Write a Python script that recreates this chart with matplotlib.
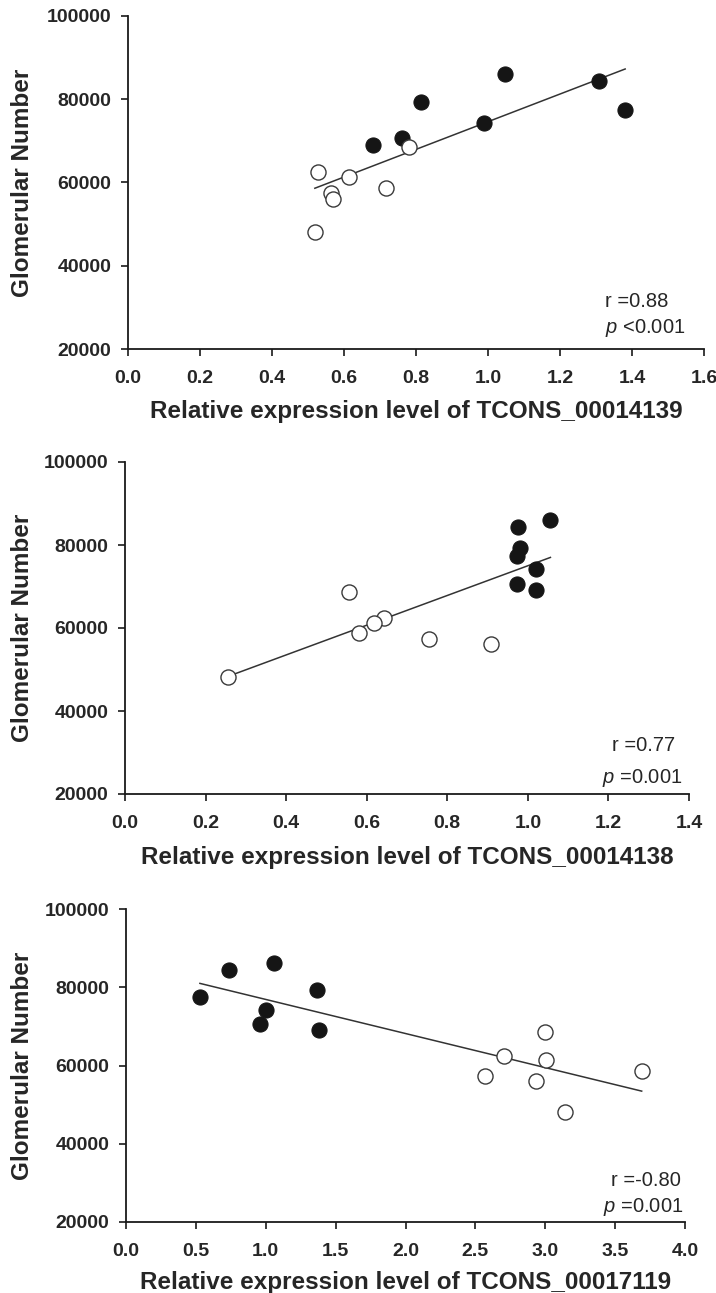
import numpy as np
import matplotlib
matplotlib.use("Agg")
import matplotlib.pyplot as plt

plt.rcParams["mathtext.fontset"] = "custom"
plt.rcParams["mathtext.it"] = "Liberation Sans:italic"
plt.rcParams["mathtext.rm"] = "Liberation Sans"

# glomerular number of each rat (filled = group 1, open = group 2)
glom_filled = [69100, 70600, 79300, 74300, 86100, 84300, 77400]
glom_open = [68600, 62500, 61300, 57400, 56100, 58700, 48100]

# relative expression, same order as above
x14139_filled = [0.68, 0.76, 0.813, 0.989, 1.048, 1.309, 1.381]
x14139_open = [0.781, 0.529, 0.613, 0.563, 0.569, 0.717, 0.519]

x14138_filled = [1.02, 0.973, 0.98, 1.02, 1.056, 0.976, 0.972]
x14138_open = [0.556, 0.644, 0.617, 0.754, 0.909, 0.581, 0.256]

x17119_filled = [1.378, 0.961, 1.366, 1.001, 1.061, 0.739, 0.529]
x17119_open = [2.999, 2.702, 3.006, 2.568, 2.935, 3.69, 3.138]

genes = ["TCONS_00014139", "TCONS_00014138", "TCONS_00017119"]
r_texts = ["r =0.88", "r =0.77", "r =-0.80"]
p_ops = ["<0.001", "=0.001", "=0.001"]
x_maxes = [1.6, 1.4, 4.0]
x_steps = [0.2, 0.2, 0.5]
y_ticks = [20000, 40000, 60000, 80000, 100000]

W, H = 716, 1293
# axes boxes in pixels: left, right, top, bottom
boxes = [(128, 704, 16, 349), (125, 689, 462, 794), (126, 685, 909, 1222)]
# annotation positions in axes fraction: (r_x, r_y, p_x, p_y)
ann = [(0.828, 0.144, 0.828, 0.063),
       (0.863, 0.145, 0.846, 0.048),
       (0.868, 0.134, 0.854, 0.048)]
# distance from x axis to top of x label, pixels
xlab_off = [51, 52, 49]

dark = "#262626"

fig = plt.figure(figsize=(W / 100, H / 100), dpi=100)

panels = [(x14139_filled, x14139_open), (x14138_filled, x14138_open),
          (x17119_filled, x17119_open)]

for i, (xf, xo) in enumerate(panels):
    l, r, t, b = boxes[i]
    ax = fig.add_axes([l / W, (H - b) / H, (r - l) / W, (b - t) / H])

    ax.scatter(xf, glom_filled, s=118, color="#151515", edgecolor="#151515",
               linewidth=0.8, zorder=3)
    ax.scatter(xo, glom_open, s=118, facecolor="white", edgecolor="#3a3a3a",
               linewidth=1.0, zorder=3)

    xs = np.array(xf + xo)
    ys = np.array(glom_filled + glom_open)
    k, c = np.polyfit(xs, ys, 1)
    xl = np.array([xs.min(), xs.max()])
    ax.plot(xl, k * xl + c, color="#333333", linewidth=1.1, zorder=2)

    ax.set_xlim(0, x_maxes[i])
    ax.set_ylim(20000, 100000)
    ax.set_xticks(np.arange(0, x_maxes[i] + 1e-9, x_steps[i]))
    ax.set_yticks(y_ticks)
    ax.xaxis.set_major_formatter(matplotlib.ticker.FormatStrFormatter("%.1f"))

    for s in ["top", "right"]:
        ax.spines[s].set_visible(False)
    for s in ["left", "bottom"]:
        ax.spines[s].set_linewidth(1.3)
        ax.spines[s].set_color("#1a1a1a")
    ax.tick_params(direction="out", length=5, width=1.2, color="#1a1a1a",
                   labelsize=14, labelcolor=dark)
    ax.tick_params(axis="x", pad=10)
    ax.tick_params(axis="y", pad=7)
    for lab in ax.get_xticklabels() + ax.get_yticklabels():
        lab.set_fontfamily("Liberation Sans")
        lab.set_fontweight("bold")

    ax.set_xlabel("Relative expression level of " + genes[i], fontsize=17.5,
                  fontweight="bold", family="Liberation Sans", color=dark)
    ax.set_ylabel("Glomerular Number", fontsize=17.5, fontweight="bold",
                  family="Liberation Sans", color=dark)
    ax.xaxis.set_label_coords(0.5, -xlab_off[i] / (b - t))
    ax.yaxis.set_label_coords(-(l - 34) / (r - l), 0.5)

    rx, ry, px, py = ann[i]
    ax.text(rx, ry, r_texts[i], transform=ax.transAxes, fontsize=14.5,
            family="Liberation Sans", color=dark, va="center", ha="left")
    ax.text(px, py, "$p$ " + p_ops[i], transform=ax.transAxes, fontsize=14.5,
            family="Liberation Sans", color=dark, va="center", ha="left")

fig.savefig("out.png", dpi=100, facecolor="white")
